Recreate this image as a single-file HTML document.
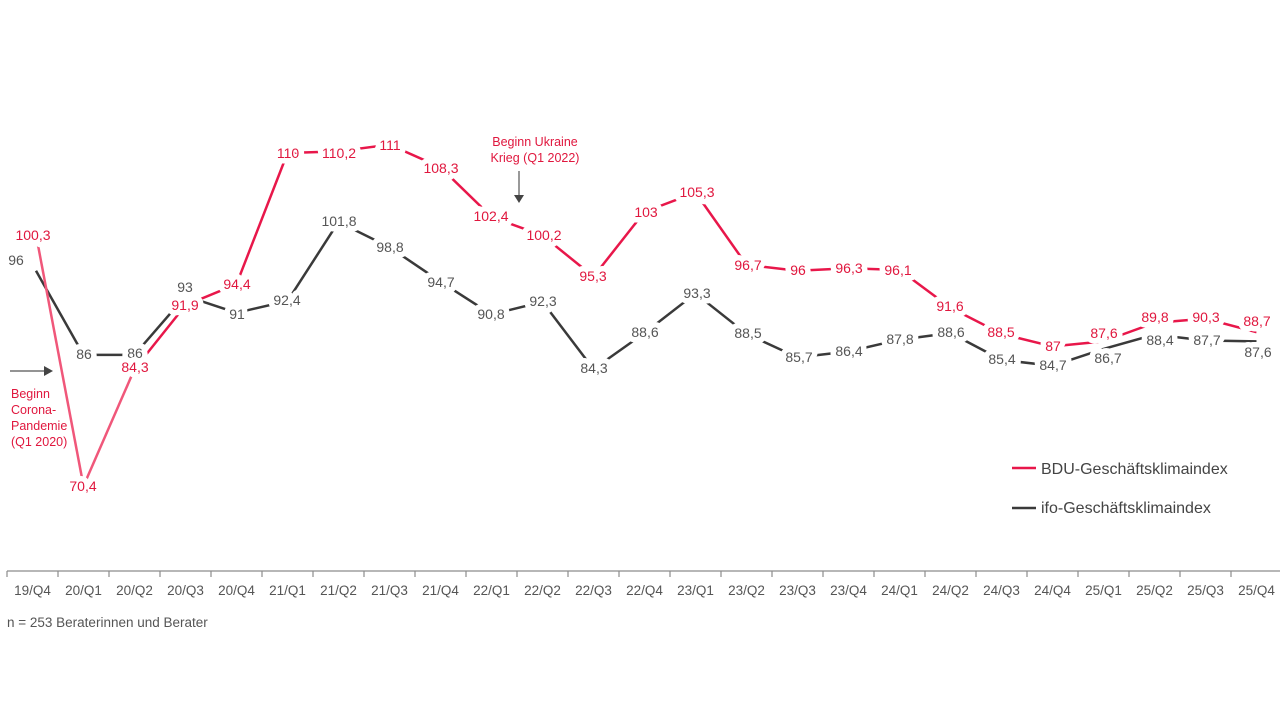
<!DOCTYPE html>
<html><head><meta charset="utf-8"><style>
html,body{margin:0;padding:0;background:#fff;}
svg{display:block;font-family:"Liberation Sans",Arial,sans-serif;}
</style></head><body>
<svg id="s" width="1280" height="720" viewBox="0 0 1280 720" xmlns="http://www.w3.org/2000/svg">
<line x1="7" y1="571" x2="1280" y2="571" stroke="#8c8c8c" stroke-width="1.2"/>
<g id="ticks"></g>
<g id="lines"></g>
<g id="labels"></g>
<text x="7" y="627" font-size="13.5" fill="#555">n = 253 Beraterinnen und Berater</text>
<line x1="1012" y1="468" x2="1036" y2="468" stroke="#e8174a" stroke-width="2.5"/>
<text x="1041" y="474" font-size="16" fill="#444">BDU-Geschäftsklimaindex</text>
<line x1="1012" y1="508" x2="1036" y2="508" stroke="#3a3a3a" stroke-width="2.5"/>
<text x="1041" y="513" font-size="16" fill="#444">ifo-Geschäftsklimaindex</text>
<text x="535" y="146" font-size="12.5" fill="#e0173e" text-anchor="middle">Beginn Ukraine</text>
<text x="535" y="162" font-size="12.5" fill="#e0173e" text-anchor="middle">Krieg (Q1 2022)</text>
<line x1="519" y1="171" x2="519" y2="195" stroke="#555" stroke-width="1.2"/>
<polygon points="514,195 524,195 519,203" fill="#444"/>
<line x1="10" y1="371" x2="44" y2="371" stroke="#555" stroke-width="1.2"/>
<polygon points="44,366 44,376 53,371" fill="#444"/>
<g font-size="12.5" fill="#e0173e">
<text x="11" y="398">Beginn</text><text x="11" y="414">Corona-</text><text x="11" y="430">Pandemie</text><text x="11" y="446">(Q1 2020)</text>
</g>
</svg>
<script>
var cats=["19/Q4","20/Q1","20/Q2","20/Q3","20/Q4","21/Q1","21/Q2","21/Q3","21/Q4","22/Q1","22/Q2","22/Q3","22/Q4","23/Q1","23/Q2","23/Q3","23/Q4","24/Q1","24/Q2","24/Q3","24/Q4","25/Q1","25/Q2","25/Q3","25/Q4"];
var bdu=[100.3,70.4,84.3,91.9,94.4,110,110.2,111,108.3,102.4,100.2,95.3,103,105.3,96.7,96,96.3,96.1,91.6,88.5,87,87.6,89.8,90.3,88.7];
var ifo=[96,86,86,93,91,92.4,101.8,98.8,94.7,90.8,92.3,84.3,88.6,93.3,88.5,85.7,86.4,87.8,88.6,85.4,84.7,86.7,88.4,87.7,87.6];
var bduL=[[33,235],[83,486],[135,367],[185,305],[237,284],[288,153],[339,153],[390,145],[441,168],[491,216],[544,235],[593,276],[646,212],[697,192],[748,265],[798,270],[849,268],[898,270],[950,306],[1001,332],[1053,346],[1104,333],[1155,317],[1206,317],[1257,321]];
var ifoL=[[16,260],[84,354],[135,353],[185,287],[237,314],[287,300],[339,221],[390,247],[441,282],[491,314],[543,301],[594,368],[645,332],[697,293],[748,333],[799,357],[849,351],[900,339],[951,332],[1002,359],[1053,365],[1108,358],[1160,340],[1207,340],[1258,352]];
var NS="http://www.w3.org/2000/svg";
function X(i){return 32.5+51*i;}
function Y(v){return 153+(110-v)*8.41;}
function el(t,a,p){var e=document.createElementNS(NS,t);for(var k in a)e.setAttribute(k,a[k]);p.appendChild(e);return e;}
var tg=document.getElementById("ticks"),lg=document.getElementById("lines"),lb=document.getElementById("labels");
for(var i=0;i<=25;i++){el("line",{x1:7+51*i,y1:571,x2:7+51*i,y2:577,stroke:"#8c8c8c","stroke-width":1.2},tg);}
cats.forEach(function(c,i){var t=el("text",{x:X(i),y:595,"font-size":13.5,fill:"#555","text-anchor":"middle"},tg);t.textContent=c;});
function series(d,col,L,labCol,red){
 for(var i=0;i<d.length-1;i++){
  var c=col; if(red&&i<2)c="#f0577a";
  var x0=X(i),x1=X(i+1);
  if(i==0)x0=36;
  el("line",{x1:x0,y1:Y(d[i]),x2:x1,y2:Y(d[i+1]),stroke:c,"stroke-width":2.5},lg);
 }
 d.forEach(function(v,i){
  var t=el("text",{x:L[i][0],y:L[i][1]+5,"font-size":14,fill:labCol,"text-anchor":"middle",stroke:"#fff","stroke-width":11,"stroke-linejoin":"round","paint-order":"stroke"},lb);
  t.textContent=String(v).replace(".",",");
 });
}
series(ifo,"#3a3a3a",ifoL,"#555",false);
series(bdu,"#e8174a",bduL,"#e0173e",true);
</script>
</body></html>
